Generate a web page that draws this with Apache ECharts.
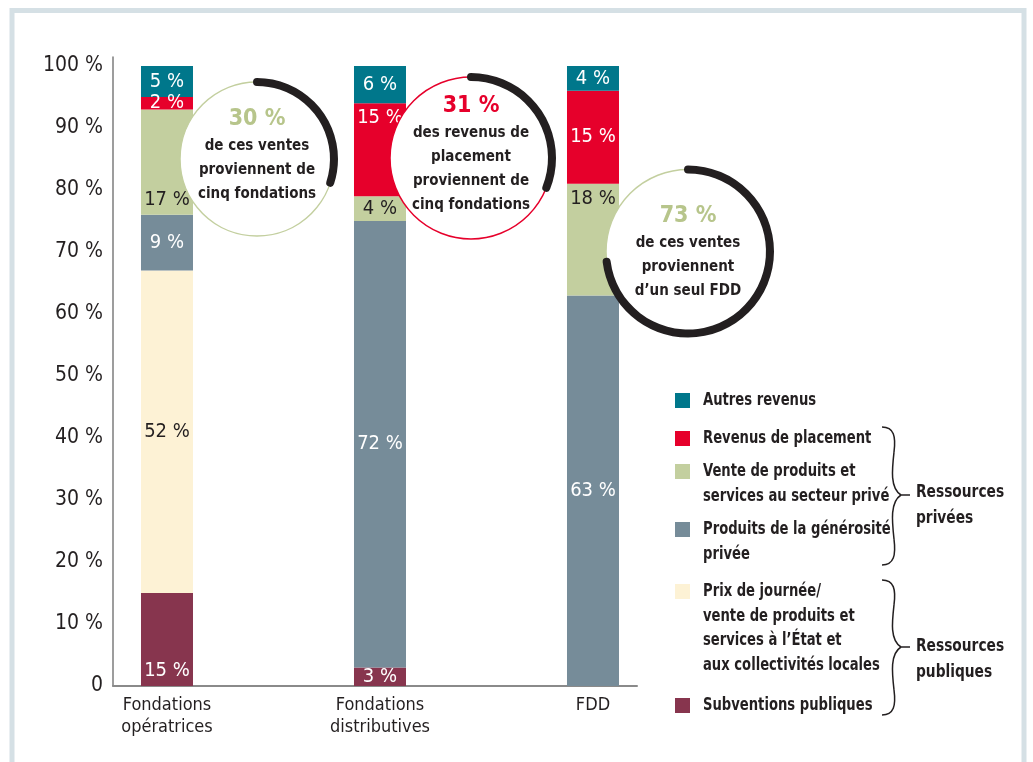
<!DOCTYPE html>
<html>
<head>
<meta charset="utf-8">
<title>Ressources des fondations</title>
<script src="https://cdn.jsdelivr.net/npm/echarts@6/dist/echarts.min.js"></script>
<style>
html, body { margin: 0; padding: 0; background: #fff; }
#chart { width: 1033px; height: 762px; }
</style>
</head>
<body>
<div id="chart"></div>
<script>
// categories (x) and the stacked shares, bottom to top
var categories = ['Fondations\nopératrices', 'Fondations\ndistributives', 'FDD'];
var subventions = [15, 3, 0];
var prixJournee = [52, 0, 0];
var generosite = [9, 72, 63];
var ventePrive = [17, 4, 18];
var placement = [2, 15, 15];
var autres = [5, 6, 4];
var yTicks = [0, 10, 20, 30, 40, 50, 60, 70, 80, 90, 100];

// callouts : share of the segment coming from a few structures
var calloutValues = [30, 31, 73];
var calloutTexts = [
    ['de ces ventes', 'proviennent de', 'cinq fondations'],
    ['des revenus de', 'placement', 'proviennent de', 'cinq fondations'],
    ['de ces ventes', 'proviennent', 'd’un seul FDD']
];

var FONT = '"DejaVu Sans Condensed", "Liberation Sans Narrow", sans-serif';
var DARK = '#231f20';

var stackDef = [
    { name: 'Subventions publiques', legend: 'Subventions publiques', data: subventions, color: '#87354e', text: '#fff', pos: ['insideBottom', 'inside', 'inside'] },
    { name: 'Prix de journée', legend: 'Prix de journée/\nvente de produits et\nservices à l’État et\naux collectivités locales', data: prixJournee, color: '#fdf2d5', text: DARK, pos: ['inside', 'inside', 'inside'] },
    { name: 'Produits de la générosité privée', legend: 'Produits de la générosité\nprivée', data: generosite, color: '#768c99', text: '#fff', pos: ['inside', 'inside', 'inside'] },
    { name: 'Vente au secteur privé', legend: 'Vente de produits et\nservices au secteur privé', data: ventePrive, color: '#c3cf9f', text: DARK, pos: ['insideBottom', 'inside', 'insideTop'] },
    { name: 'Revenus de placement', legend: 'Revenus de placement', data: placement, color: '#e6002b', text: '#fff', pos: ['inside', 'insideTop', 'inside'] },
    { name: 'Autres revenus', legend: 'Autres revenus', data: autres, color: '#00778b', text: '#fff', pos: ['inside', 'inside', 'inside'] }
];

// bars sit on a value x axis (positions 0,1,2); value first so it is the stacked dimension
var series = stackDef.map(function (s) {
    return {
        type: 'bar',
        name: s.name,
        stack: 'total',
        barWidth: 52,
        encode: { x: 1, y: 0 },
        itemStyle: { color: s.color },
        label: {
            show: true,
            color: s.text,
            fontFamily: FONT,
            fontSize: 20,
            distance: 5,
            formatter: function (p) {
                return p.value[0] ? p.value[0] + ' %' : '';
            }
        },
        data: s.data.map(function (v, i) {
            return { value: [v, i], label: { position: s.pos[i] } };
        })
    };
});

// callout rings (gauge progress = the share)
var rings = [
    { cx: 257, cy: 159, r: 77, stroke: '#c3cf9f', num: '#b7c58b', off: -4 },
    { cx: 471, cy: 158, r: 81, stroke: '#e6002b', num: '#e6002b', off: -4 },
    { cx: 688, cy: 251.5, r: 82, stroke: '#c3cf9f', num: '#b7c58b', off: 1 }
];
rings.forEach(function (g, k) {
    series.push({
        type: 'gauge',
        center: [g.cx, g.cy],
        radius: g.r + 4,
        startAngle: 90,
        endAngle: -270,
        min: 0,
        max: 100,
        z: 20,
        axisLine: { show: false },
        progress: { show: true, width: 8, roundCap: true, itemStyle: { color: DARK } },
        pointer: { show: false },
        axisTick: { show: false },
        splitLine: { show: false },
        axisLabel: { show: false },
        title: { show: false },
        detail: {
            offsetCenter: [0, g.off],
            formatter: function (v) {
                return '{n|' + v + ' %}\n' + calloutTexts[k].map(function (l) {
                    return '{t|' + l + '}';
                }).join('\n');
            },
            rich: {
                n: { fontFamily: FONT, fontSize: 23, fontWeight: 'bold', color: g.num, lineHeight: 30, align: 'center' },
                t: { fontFamily: FONT, fontSize: 15, fontWeight: 'bold', color: DARK, lineHeight: 24, align: 'center' }
            }
        },
        data: [{ value: calloutValues[k] }]
    });
});

// graphic : frame, ring backgrounds, legend, braces
var graphics = [
    { type: 'rect', silent: true, z: 0, shape: { x: 12, y: 10.5, width: 1012, height: 800 }, style: { fill: 'none', stroke: '#d5e0e5', lineWidth: 5 } }
];
rings.forEach(function (g) {
    graphics.push({ type: 'circle', z: 10, shape: { cx: g.cx, cy: g.cy, r: g.r }, style: { fill: '#fff', stroke: g.stroke, lineWidth: 1.5 } });
});

var legendIconTop = [393, 431, 464, 522, 584, 698];
var legendOrder = stackDef.slice().reverse();
legendOrder.forEach(function (s, i) {
    graphics.push({ type: 'rect', shape: { x: 675, y: legendIconTop[i], width: 15, height: 15 }, style: { fill: s.color } });
    graphics.push({
        type: 'text', x: 703, y: legendIconTop[i] - 4.5, scaleX: 0.86,
        style: { text: s.legend, fontFamily: FONT, fontSize: 17, fontWeight: 'bold', lineHeight: 24.5, fill: DARK, verticalAlign: 'top' }
    });
});

// curly braces grouping the legend
function brace(top, mid, bot) {
    var s = { fill: 'none', stroke: DARK, lineWidth: 1.5 };
    var h1 = (mid - top), h2 = (bot - mid);
    return [
        { type: 'bezierCurve', shape: { x1: 882, y1: top, cpx1: 894, cpy1: top, cpx2: 896, cpy2: top + h1 * 0.14, x2: 894, y2: top + h1 * 0.37 }, style: s },
        { type: 'bezierCurve', shape: { x1: 894, y1: top + h1 * 0.37, cpx1: 892, cpy1: top + h1 * 0.63, cpx2: 890, cpy2: top + h1 * 0.9, x2: 901, y2: mid }, style: s },
        { type: 'bezierCurve', shape: { x1: 901, y1: mid, cpx1: 890, cpy1: mid + h2 * 0.1, cpx2: 892, cpy2: mid + h2 * 0.37, x2: 894, y2: mid + h2 * 0.63 }, style: s },
        { type: 'bezierCurve', shape: { x1: 894, y1: mid + h2 * 0.63, cpx1: 896, cpy1: mid + h2 * 0.86, cpx2: 894, cpy2: bot, x2: 882, y2: bot }, style: s },
        { type: 'line', shape: { x1: 901, y1: mid, x2: 910, y2: mid }, style: s }
    ];
}
graphics = graphics.concat(brace(427, 495, 565), brace(580, 647, 715));
graphics.push(
    { type: 'text', x: 916, y: 480, scaleX: 0.9, style: { text: 'Ressources\nprivées', fontFamily: FONT, fontSize: 17, fontWeight: 'bold', lineHeight: 26, fill: DARK, verticalAlign: 'top' } },
    { type: 'text', x: 916, y: 634, scaleX: 0.9, style: { text: 'Ressources\npubliques', fontFamily: FONT, fontSize: 17, fontWeight: 'bold', lineHeight: 26, fill: DARK, verticalAlign: 'top' } }
);

var option = {
    animation: false,
    backgroundColor: '#fff',
    // the y axis line runs a little above 100 %
    grid: { left: 113, right: 396, top: 57, bottom: 76, containLabel: false },
    xAxis: {
        type: 'value',
        min: -0.2535,
        max: 2.2066,
        axisLine: { show: true, onZero: false, lineStyle: { color: '#8a8a8a', width: 2 } },
        axisTick: { show: false },
        splitLine: { show: false },
        axisLabel: {
            customValues: [0, 1, 2],
            margin: 8,
            fontFamily: FONT,
            fontSize: 18,
            lineHeight: 22,
            color: DARK,
            formatter: function (v) { return categories[v] || ''; }
        }
    },
    yAxis: {
        type: 'value',
        min: yTicks[0],
        max: 101.45,
        axisLine: { show: true, onZero: false, lineStyle: { color: '#7d7d7d', width: 1.5 } },
        axisTick: { show: false },
        splitLine: { show: false },
        axisLabel: {
            customValues: yTicks,
            margin: 10,
            fontFamily: FONT,
            fontSize: 21,
            color: DARK,
            formatter: function (v) { return v === 0 ? '0' : v + ' %'; }
        }
    },
    graphic: graphics,
    series: series
};

var myChart = echarts.init(document.getElementById('chart'));
myChart.setOption(option);
</script>
</body>
</html>
